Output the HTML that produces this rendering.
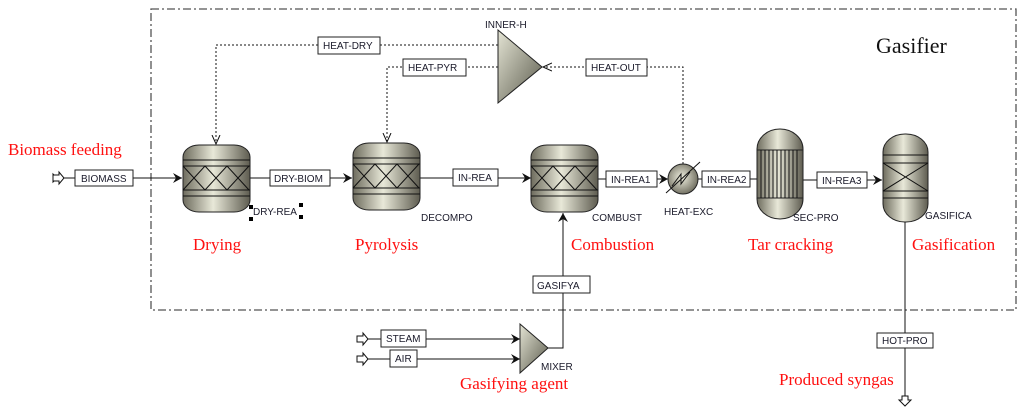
<!DOCTYPE html>
<html><head><meta charset="utf-8"><style>
html,body{margin:0;padding:0;background:#fff;}
svg{display:block;}
.t{font-family:"Liberation Sans",sans-serif;font-size:10px;fill:#1a1a2a;}
.r{font-family:"Liberation Serif",serif;font-size:17px;fill:#ff1010;}
.bx{fill:#fff;stroke:#222;stroke-width:1;}
.ln{stroke:#111;stroke-width:1;fill:none;}
.dl{stroke:#111;stroke-width:1;fill:none;stroke-dasharray:2,2;}
</style></head><body>
<svg width="1024" height="414" viewBox="0 0 1024 414" xmlns="http://www.w3.org/2000/svg">
<defs>
<linearGradient id="g" x1="0" x2="1" y1="0" y2="0">
<stop offset="0" stop-color="#6e6c5e"/><stop offset="0.45" stop-color="#e8e8d8"/><stop offset="1" stop-color="#5e5c50"/>
</linearGradient>
<radialGradient id="gc" cx="0.45" cy="0.45" r="0.6">
<stop offset="0" stop-color="#f0f0e0"/><stop offset="1" stop-color="#6a685a"/>
</radialGradient>
<linearGradient id="gt" x1="0" x2="1" y1="0" y2="1">
<stop offset="0" stop-color="#e4e4d4"/><stop offset="1" stop-color="#5a5a4c"/>
</linearGradient>
<marker id="a" markerWidth="10" markerHeight="10" refX="9" refY="5" orient="auto" markerUnits="userSpaceOnUse">
<path d="M0,0 L9,5 L0,10 L3,5 z" fill="#111"/></marker>
<marker id="ao" markerWidth="10" markerHeight="10" refX="9" refY="5" orient="auto" markerUnits="userSpaceOnUse">
<path d="M0,1 L9,5 L0,9" fill="none" stroke="#111"/></marker>
</defs>

<!-- border -->
<rect x="151" y="9" width="865" height="301" fill="none" stroke="#555" stroke-width="1.3" stroke-dasharray="8,3,2,3"/>
<text x="876" y="53" font-family="Liberation Serif,serif" font-size="22" fill="#111">Gasifier</text>

<!-- red labels -->
<text class="r" x="8" y="155">Biomass feeding</text>
<text class="r" x="193" y="250">Drying</text>
<text class="r" x="355" y="250">Pyrolysis</text>
<text class="r" x="571" y="250">Combustion</text>
<text class="r" x="748" y="250">Tar cracking</text>
<text class="r" x="912" y="250">Gasification</text>
<text class="r" x="460" y="389">Gasifying agent</text>
<text class="r" x="779" y="385">Produced syngas</text>

<!-- main streams -->
<path d="M56,178 h-3 M53,174 l4,4 -4,4 z" class="ln"/>
<path d="M53,175 h6 v-3 l5,6 -5,6 v-3 h-6 z" fill="#fff" stroke="#111"/>
<line x1="64" y1="178" x2="182" y2="178" class="ln" marker-end="url(#a)"/>
<rect class="bx" x="75" y="170" width="58" height="16"/><text class="t" x="81" y="182">BIOMASS</text>

<line x1="250" y1="178" x2="352" y2="178" class="ln" marker-end="url(#a)"/>
<rect class="bx" x="270" y="170" width="60" height="16"/><text class="t" x="274" y="182">DRY-BIOM</text>

<line x1="420" y1="178" x2="531" y2="178" class="ln" marker-end="url(#a)"/>
<rect class="bx" x="453" y="169" width="45" height="17"/><text class="t" x="458" y="181">IN-REA</text>

<line x1="598" y1="179" x2="668" y2="179" class="ln" marker-end="url(#a)"/>
<rect class="bx" x="606" y="171" width="51" height="16"/><text class="t" x="611" y="183">IN-REA1</text>

<line x1="698" y1="179" x2="757" y2="179" class="ln"/>
<rect class="bx" x="702" y="171" width="48" height="16"/><text class="t" x="707" y="183">IN-REA2</text>

<line x1="803" y1="180" x2="882" y2="180" class="ln" marker-end="url(#a)"/>
<rect class="bx" x="817" y="172" width="50" height="16"/><text class="t" x="822" y="184">IN-REA3</text>

<!-- heat streams -->
<path d="M498,45 H216 V144" class="dl" marker-end="url(#ao)"/>
<rect class="bx" x="318" y="37" width="62" height="17"/><text class="t" x="323" y="49">HEAT-DRY</text>
<path d="M498,67 H387 V142" class="dl" marker-end="url(#ao)"/>
<rect class="bx" x="403" y="59" width="63" height="17"/><text class="t" x="408" y="71">HEAT-PYR</text>
<path d="M683,164 V67 H543" class="dl" marker-end="url(#ao)"/>
<rect class="bx" x="586" y="59" width="61" height="17"/><text class="t" x="591" y="71">HEAT-OUT</text>

<!-- INNER-H -->
<polygon points="498,30 542,67 498,103" fill="url(#gt)" stroke="#222"/>
<text class="t" x="485" y="28">INNER-H</text>

<!-- reactors -->
<g id="rx">
<rect x="183" y="145" width="67" height="67" rx="16" ry="12" fill="url(#g)" stroke="#222"/>
<path d="M183,160 H250 M183,166 H250 M183,190 H250 M183,196 H250" class="ln"/>
<path d="M183,166 l11,12 -11,12 M194,178 l11,-12 11,12 11,-12 11,12 11,-12 M194,178 l11,12 11,-12 11,12 11,-12 11,12 M249,166 l-11,12 11,12" class="ln" stroke-width="0.8"/>
</g>
<use href="#rx" x="170" y="-2"/>
<use href="#rx" x="348" y="0"/>
<text class="t" x="253" y="215">DRY-REA</text>
<rect x="249" y="205" width="4" height="4" fill="#000"/><rect x="249" y="217" width="4" height="4" fill="#000"/>
<rect x="299" y="203" width="4" height="4" fill="#000"/><rect x="299" y="215" width="4" height="4" fill="#000"/>
<text class="t" x="421" y="221">DECOMPO</text>
<text class="t" x="592" y="221">COMBUST</text>

<!-- heat exchanger -->
<circle cx="683" cy="179" r="15" fill="url(#gc)" stroke="#222"/>
<path d="M666,193 L700,162 M672,186 l9,-12 v10 l9,-12" class="ln"/>
<text class="t" x="664" y="215">HEAT-EXC</text>

<!-- SEC-PRO -->
<rect x="757" y="129" width="46" height="90" rx="23" ry="20" fill="url(#g)" stroke="#222"/>
<rect x="757" y="150" width="46" height="48" fill="none" stroke="#222"/>
<path d="M761,150v48M765,150v48M769,150v48M773,150v48M777,150v48M781,150v48M785,150v48M789,150v48M793,150v48M797,150v48" class="ln" stroke-width="0.8"/>
<text class="t" x="793" y="221">SEC-PRO</text>

<!-- GASIFICA -->
<rect x="883" y="134" width="45" height="88" rx="22" ry="18" fill="url(#g)" stroke="#222"/>
<path d="M883,155 H928 M883,163 H928 M883,191 H928 M883,198 H928 M883,163 L928,191 M928,163 L883,191" class="ln"/>
<text class="t" x="925" y="219">GASIFICA</text>
<line x1="905" y1="222" x2="905" y2="398" class="ln"/>
<rect class="bx" x="877" y="333" width="56" height="15"/><text class="t" x="882" y="344">HOT-PRO</text>
<path d="M902,396 h6 v4 h3 l-6,6 -6,-6 h3 z" fill="#fff" stroke="#111"/>

<!-- mixer -->
<polygon points="520,324 548,348 520,373" fill="url(#gt)" stroke="#222"/>
<text class="t" x="541" y="370">MIXER</text>
<path d="M548,348 H563 V213" class="ln" marker-end="url(#a)"/>
<rect class="bx" x="533" y="276" width="57" height="17"/><text class="t" x="537" y="289">GASIFYA</text>
<path d="M357,336 h6 v-3 l5,6 -5,6 v-3 h-6 z" fill="#fff" stroke="#111"/>
<line x1="368" y1="339" x2="520" y2="339" class="ln" marker-end="url(#a)"/>
<rect class="bx" x="381" y="330" width="45" height="17"/><text class="t" x="386" y="342">STEAM</text>
<path d="M357,356 h6 v-3 l5,6 -5,6 v-3 h-6 z" fill="#fff" stroke="#111"/>
<line x1="368" y1="359" x2="520" y2="359" class="ln" marker-end="url(#a)"/>
<rect class="bx" x="390" y="350" width="27" height="17"/><text class="t" x="395" y="362">AIR</text>
</svg>
</body></html>
